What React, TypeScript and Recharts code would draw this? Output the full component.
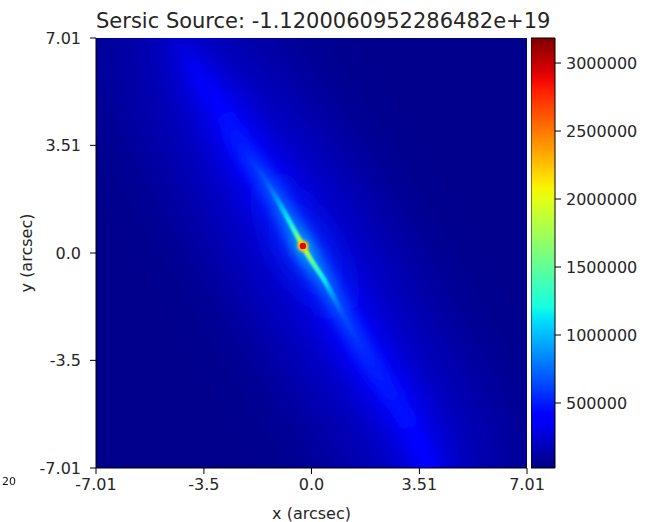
import React from 'react';
import { ComposedChart, Line, Scatter, XAxis, YAxis, ReferenceArea } from 'recharts';

// ---------- data ----------
const xTicks = [-7.01, -3.5, 0.0, 3.51, 7.01];
const xTickLabels = ['-7.01', '-3.5', '0.0', '3.51', '7.01'];
const yTicks = [-7.01, -3.5, 0.0, 3.51, 7.01];
const yTickLabels = ['-7.01', '-3.5', '0.0', '3.51', '7.01'];
const colorbarTicks = [500000, 1000000, 1500000, 2000000, 2500000, 3000000];
const colorMin = 22000;
const colorMax = 3184000;
const backgroundValue = 60000;

// centre line of the lensed arc (arcsec) and brightness along it
const streakX = [-4.31, -3.76, -3.01, -2.23, -1.48, -0.83, -0.55, -0.28, 0.0, 0.37, 1.02, 1.77, 2.52, 3.3, 3.82];
const streakY = [7.01, 5.93, 4.83, 3.42, 2.35, 1.24, 0.72, 0.23, -0.25, -0.81, -2.02, -3.32, -4.5, -5.8, -7.01];
const streakV = [260000, 390000, 500000, 640000, 860000, 1120000, 1350000, 2000000, 1500000, 1170000, 850000, 690000, 600000, 520000, 450000];

// bright compact peak
const peakX = [-0.28];
const peakY = [0.23];
const peakV = [3100000];

const titleText = 'Sersic Source: -1.1200060952286482e+19';

// ---------- helpers ----------
const JET_R: number[][] = [[0, 0], [0.35, 0], [0.66, 1], [0.89, 1], [1, 0.5]];
const JET_G: number[][] = [[0, 0], [0.125, 0], [0.375, 1], [0.64, 1], [0.91, 0], [1, 0]];
const JET_B: number[][] = [[0, 0.5], [0.11, 1], [0.34, 1], [0.65, 0], [1, 0]];

function interp(pts: number[][], t: number) {
  for (let i = 1; i < pts.length; i++) {
    if (t <= pts[i][0]) {
      const [x0, y0] = pts[i - 1];
      const [x1, y1] = pts[i];
      return y0 + ((t - x0) / (x1 - x0)) * (y1 - y0);
    }
  }
  return pts[pts.length - 1][1];
}

function jetT(t: number) {
  const c = Math.max(0, Math.min(1, t));
  const r = Math.round(interp(JET_R, c) * 255);
  const g = Math.round(interp(JET_G, c) * 255);
  const b = Math.round(interp(JET_B, c) * 255);
  return `rgb(${r},${g},${b})`;
}

function jetColor(value: number) {
  return jetT((value - colorMin) / (colorMax - colorMin));
}

const streakData = streakX.map((x, i) => ({ x, y: streakY[i], v: streakV[i] }));
const peakData = peakX.map((x, i) => ({ x, y: peakY[i], v: peakV[i] }));

// gradient along the arc in bounding-box units, iso-lines perpendicular to the chord
const sxMin = Math.min(...streakX);
const sxMax = Math.max(...streakX);
const syMin = Math.min(...streakY);
const syMax = Math.max(...streakY);
const aspect = Math.pow((sxMax - sxMin) / (syMax - syMin), 2);
const gradK = (aspect + 1) / (aspect * aspect + 1);
const gradX2 = gradK * aspect;
const gradY2 = gradK;
const streakOffsets = streakData.map((d) => {
  const u = (d.x - sxMin) / (sxMax - sxMin);
  const v = (syMax - d.y) / (syMax - syMin);
  return Math.max(0, Math.min(1, (u * aspect + v) / (aspect + 1)));
});

// rendering layers (style only): each draws the arc at a different width / level
const layers = [
  { id: 'broad', width: 150, blur: 34, frac: 0.6, cap: 200000, fadeFrom: 0, fadeRange: 0 },
  { id: 'halo', width: 48, blur: 14, frac: 0.85, cap: 520000, fadeFrom: 0, fadeRange: 0 },
  { id: 'body', width: 20, blur: 6, frac: 1.0, cap: 1050000, fadeFrom: 0, fadeRange: 0 },
  { id: 'core', width: 5, blur: 1.2, frac: 1.0, cap: 0, fadeFrom: 700000, fadeRange: 500000 },
];

function layerValue(cap: number, frac: number, v: number) {
  const d = frac * (v - backgroundValue);
  if (cap <= 0) return backgroundValue + d;
  return backgroundValue + cap * (1 - Math.exp(-d / cap));
}

function smooth(t: number) {
  const c = Math.max(0, Math.min(1, t));
  return c * c * (3 - 2 * c);
}

const FONT = '"DejaVu Sans", sans-serif';
const TEXT = '#262626';

const tickStyle = { fontFamily: FONT, fontSize: 16, fill: TEXT };

function PeakShape(props: any) {
  const { cx, cy, payload } = props;
  if (cx == null || cy == null) return null;
  return (
    <g>
      <circle cx={cx} cy={cy} r={5.5} fill={jetColor(payload.v * 0.72)} filter="url(#blurPeakOuter)" />
      <circle cx={cx} cy={cy} r={3.2} fill={jetColor(payload.v * 0.93)} filter="url(#blurPeakInner)" />
    </g>
  );
}

function YLabel(props: any) {
  const vb = props.viewBox || {};
  const x = 18;
  const y = (vb.y || 0) + (vb.height || 0) / 2;
  return (
    <text
      x={x}
      y={y}
      transform={`rotate(-90, ${x}, ${y})`}
      textAnchor="middle"
      dominantBaseline="central"
      style={{ fontFamily: FONT, fontSize: 16, fill: TEXT }}
    >
      y (arcsec)
    </text>
  );
}

function XLabel(props: any) {
  const vb = props.viewBox || {};
  const x = (vb.x || 0) + (vb.width || 0) / 2;
  const y = 505;
  return (
    <text x={x} y={y} textAnchor="middle" dominantBaseline="central" style={{ fontFamily: FONT, fontSize: 16, fill: TEXT }}>
      x (arcsec)
    </text>
  );
}

const colorbarStops = Array.from({ length: 41 }, (_, i) => i / 40);

export default function App() {
  return (
    <div style={{ position: 'relative', width: 630, height: 514 }}>
      <div
        style={{
          position: 'absolute',
          left: 88,
          width: 431,
          top: 0,
          textAlign: 'center',
          fontFamily: FONT,
          fontSize: 21,
          color: TEXT,
          whiteSpace: 'nowrap',
          lineHeight: '26px',
        }}
      >
        {titleText}
      </div>
      <div style={{ position: 'absolute', left: 0, top: 0 }}>
        <ComposedChart width={630} height={514} margin={{ top: 30, right: 111, bottom: 0, left: 0 }}>
          <defs>
            {layers.map((l) => (
              <linearGradient key={l.id} id={`grad-${l.id}`} x1="0" y1="0" x2={gradX2} y2={gradY2}>
                {streakData.map((d, i) => {
                  const val = layerValue(l.cap, l.frac, d.v);
                  const op = l.fadeRange > 0 ? smooth((d.v - l.fadeFrom) / l.fadeRange) : 1;
                  return <stop key={i} offset={streakOffsets[i]} stopColor={jetColor(val)} stopOpacity={op} />;
                })}
              </linearGradient>
            ))}
            {layers.map((l) => (
              <filter key={l.id} id={`blur-${l.id}`} x="-100%" y="-30%" width="300%" height="160%">
                <feGaussianBlur stdDeviation={l.blur} />
              </filter>
            ))}
            <filter id="blurPeakOuter" x="-100%" y="-100%" width="300%" height="300%">
              <feGaussianBlur stdDeviation={1.6} />
            </filter>
            <filter id="blurPeakInner" x="-100%" y="-100%" width="300%" height="300%">
              <feGaussianBlur stdDeviation={0.7} />
            </filter>
          </defs>
          <XAxis
            type="number"
            dataKey="x"
            domain={[-7.01, 7.01]}
            ticks={xTicks}
            allowDataOverflow
            height={54}
            interval={0}
            tickFormatter={(v: number) => xTickLabels[xTicks.indexOf(v)] ?? String(v)}
            tick={tickStyle}
            tickSize={6}
            tickMargin={5}
            stroke="#000"
            label={<XLabel />}
          />
          <XAxis xAxisId="top" orientation="top" type="number" dataKey="x" domain={[-7.01, 7.01]} allowDataOverflow height={0} tick={false} tickLine={false} stroke="#000" />
          <YAxis
            type="number"
            dataKey="y"
            domain={[-7.01, 7.01]}
            ticks={yTicks}
            allowDataOverflow
            width={88}
            interval={0}
            tickFormatter={(v: number) => yTickLabels[yTicks.indexOf(v)] ?? String(v)}
            tick={tickStyle}
            tickSize={6}
            tickMargin={9}
            stroke="#000"
            label={<YLabel />}
          />
          <YAxis yAxisId="right" orientation="right" type="number" domain={[-7.01, 7.01]} allowDataOverflow width={0} tick={false} tickLine={false} stroke="#000" />
          <ReferenceArea
            x1={-7.01}
            x2={7.01}
            y1={-7.01}
            y2={7.01}
            fill={jetColor(backgroundValue)}
            fillOpacity={1}
            stroke="none"
          />
          {layers.map((l) => (
            <Line
              key={l.id}
              data={streakData}
              dataKey="y"
              type="monotone"
              stroke={`url(#grad-${l.id})`}
              strokeWidth={l.width}
              filter={`url(#blur-${l.id})`}
              dot={false}
              activeDot={false}
              isAnimationActive={false}
              strokeLinecap="round"
            />
          ))}
          <Scatter data={peakData} dataKey="y" shape={<PeakShape />} isAnimationActive={false} />
        </ComposedChart>
      </div>
      <div style={{ position: 'absolute', left: 523, top: 0 }}>
        <ComposedChart width={107} height={514} margin={{ top: 30, right: 0, bottom: 54, left: 0 }} data={colorbarTicks.map((v) => ({ x: 0.5, v }))}>
          <defs>
            <linearGradient id="cbGrad" x1="0" y1="1" x2="0" y2="0">
              {colorbarStops.map((t, i) => (
                <stop key={i} offset={t} stopColor={jetT(t)} />
              ))}
            </linearGradient>
          </defs>
          <XAxis type="number" dataKey="x" domain={[0, 1]} hide />
          <YAxis
            orientation="right"
            type="number"
            dataKey="v"
            domain={[colorMin, colorMax]}
            ticks={colorbarTicks}
            allowDataOverflow
            width={83}
            interval={0}
            tick={{ ...tickStyle, textAnchor: 'start' }}
            tickSize={6}
            tickMargin={5}
            axisLine={false}
            stroke="#000"
          />
          <ReferenceArea x1={0} x2={1} y1={colorMin} y2={colorMax} fill="url(#cbGrad)" fillOpacity={1} stroke="#000" strokeWidth={1} />
        </ComposedChart>
      </div>
      <div
        style={{
          position: 'fixed',
          left: 2,
          top: 475,
          fontFamily: FONT,
          fontSize: 11,
          color: '#111',
          lineHeight: '13px',
          whiteSpace: 'nowrap',
          zIndex: 10,
        }}
      >
        20
      </div>
    </div>
  );
}
